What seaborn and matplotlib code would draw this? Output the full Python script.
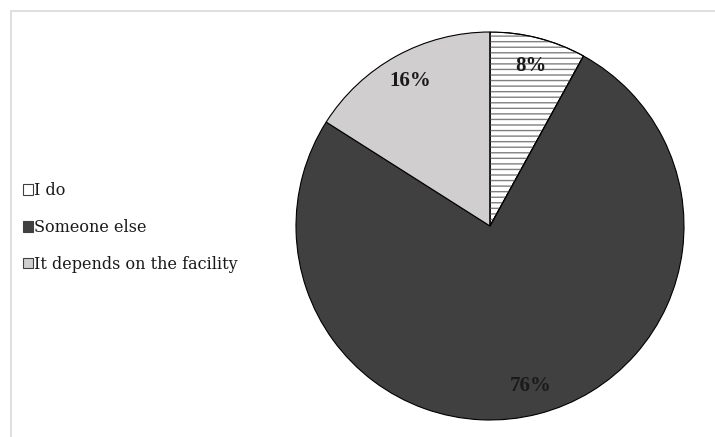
import matplotlib
matplotlib.use("Agg")
import matplotlib.pyplot as plt
import seaborn as sns
from matplotlib.patches import Patch, Rectangle, Wedge

sns.set_theme(style="white")
plt.rcParams['font.family'] = ['DejaVu Serif', 'Liberation Serif']
plt.rcParams['hatch.linewidth'] = 1.0

categories = ["I do", "Someone else", "It depends on the facility"]
values = [8, 76, 16]
colors = ["#ffffff", "#404040", "#d0cece"]
hatches = ["---", "", ""]

W, H = 715, 437
fig = plt.figure(figsize=(W / 100, H / 100), dpi=100)
fig.patch.set_facecolor("white")

# outer frame
fig.add_artist(Rectangle((11 / W, -0.1), 1.2, (H - 11) / H + 0.1, transform=fig.transFigure,
                         fill=False, edgecolor="#d9d9d9", lw=1.2))

cx, cy, r = 490, 226, 194
ax = fig.add_axes([(cx - r) / W, (H - cy - r) / H, 2 * r / W, 2 * r / H])
wedges, texts, autotexts = ax.pie(
    values, colors=colors, startangle=90, counterclock=False,
    autopct=lambda p: f"{p:.0f}%", pctdistance=0.85,
    wedgeprops=dict(edgecolor="black", linewidth=0.8),
    textprops=dict(fontsize=15, fontweight="bold", color="#1a1a1a",
                   family=['Liberation Serif', 'DejaVu Serif']),
)
# gray hatch overlays
for w, h in zip(wedges, hatches):
    if h:
        ov = Wedge(w.center, w.r, w.theta1, w.theta2, facecolor="none",
                   edgecolor="#808080", linewidth=0, hatch=h, zorder=w.get_zorder() + 0.1)
        ax.add_patch(ov)
        outline = Wedge(w.center, w.r, w.theta1, w.theta2, facecolor="none",
                        edgecolor="black", linewidth=0.8, zorder=w.get_zorder() + 0.2)
        ax.add_patch(outline)
for t in autotexts:
    t.set_zorder(5)
ax.set_aspect("equal")
ax.set_xlim(-1.0, 1.0)
ax.set_ylim(-1.0, 1.0)
ax.axis("off")

handles = [Patch(facecolor=c, edgecolor="#404040", linewidth=0.8) for c in colors]
fig.legend(handles, categories, loc="upper left", bbox_to_anchor=(23 / W, (H - 182) / H),
           frameon=False, fontsize=11.5, handlelength=0.62, handleheight=0.62,
           handletextpad=0.1, labelspacing=1.25, borderaxespad=0, borderpad=0,
           labelcolor="#1a1a1a")

fig.savefig("out.png", dpi=100, facecolor="white")
